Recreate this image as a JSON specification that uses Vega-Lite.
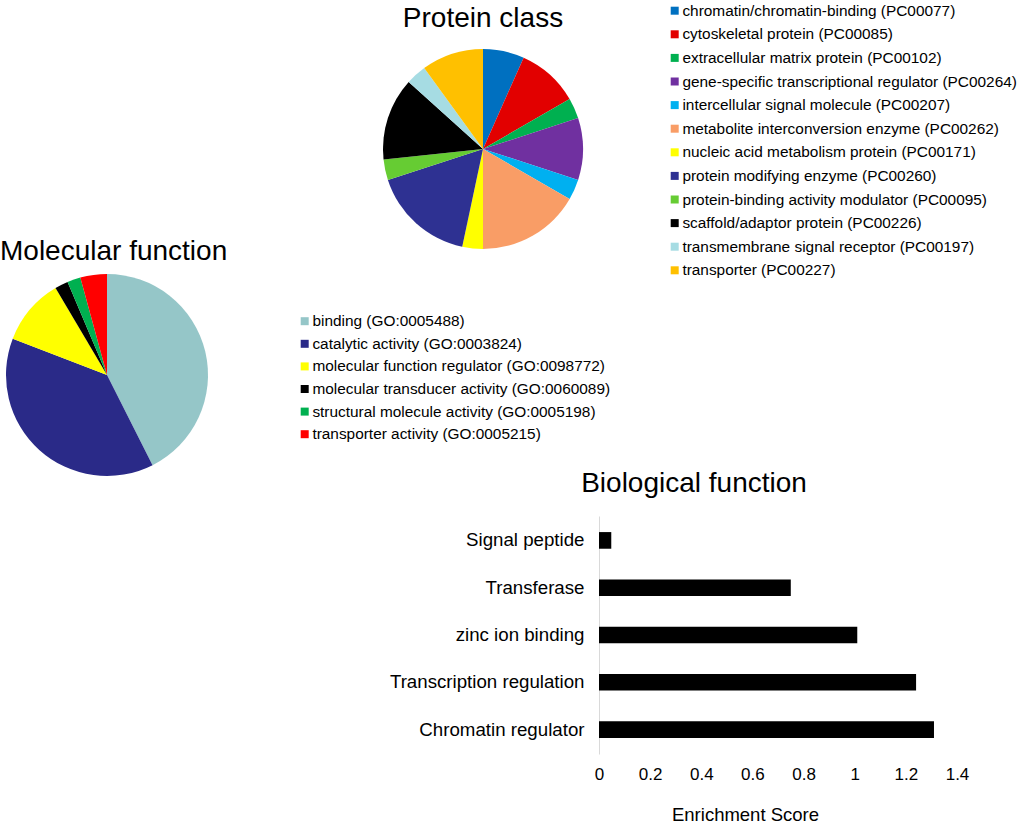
{
  "$schema": "https://vega.github.io/schema/vega-lite/v6.json",
  "background": "white",
  "padding": {"left": 0, "top": 3, "right": 0, "bottom": 0},
  "config": {
    "view": {"stroke": null},
    "font": "Liberation Sans",
    "title": {"font": "Liberation Sans", "fontSize": 28, "fontWeight": "normal", "color": "black", "frame": "group"},
    "legend": {
      "labelFont": "Liberation Sans", "labelFontSize": 15.4, "labelColor": "black",
      "symbolType": "square", "symbolSize": 64, "symbolStrokeWidth": 0,
      "labelOffset": 0, "padding": 0, "labelLimit": 600
    },
    "axis": {"labelFont": "Liberation Sans", "titleFont": "Liberation Sans", "labelColor": "black", "titleColor": "black"}
  },
  "bounds": "flush",
  "spacing": 40,
  "resolve": {"scale": {"color": "independent", "theta": "independent"}, "legend": {"color": "independent"}},
  "vconcat": [
    {
      "width": 966,
      "height": 170,
      "title": {"text": "Protein class", "anchor": "middle", "baseline": "alphabetic", "offset": -52},
      "data": {"values": [
        {"category": "chromatin/chromatin-binding (PC00077)", "count": 2},
        {"category": "cytoskeletal protein (PC00085)", "count": 3},
        {"category": "extracellular matrix protein (PC00102)", "count": 1},
        {"category": "gene-specific transcriptional regulator (PC00264)", "count": 3},
        {"category": "intercellular signal molecule (PC00207)", "count": 1},
        {"category": "metabolite interconversion enzyme (PC00262)", "count": 5},
        {"category": "nucleic acid metabolism protein (PC00171)", "count": 1},
        {"category": "protein modifying enzyme (PC00260)", "count": 5},
        {"category": "protein-binding activity modulator (PC00095)", "count": 1},
        {"category": "scaffold/adaptor protein (PC00226)", "count": 4},
        {"category": "transmembrane signal receptor (PC00197)", "count": 1},
        {"category": "transporter (PC00227)", "count": 3}
      ]},
      "mark": {"type": "arc", "outerRadius": 100},
      "encoding": {
        "theta": {"field": "count", "type": "quantitative", "stack": true},
        "order": {"field": "category", "sort": "ascending"},
        "color": {
          "field": "category", "type": "nominal",
          "scale": {
            "domain": [
              "chromatin/chromatin-binding (PC00077)", "cytoskeletal protein (PC00085)", "extracellular matrix protein (PC00102)",
              "gene-specific transcriptional regulator (PC00264)", "intercellular signal molecule (PC00207)", "metabolite interconversion enzyme (PC00262)",
              "nucleic acid metabolism protein (PC00171)", "protein modifying enzyme (PC00260)", "protein-binding activity modulator (PC00095)",
              "scaffold/adaptor protein (PC00226)", "transmembrane signal receptor (PC00197)", "transporter (PC00227)"
            ],
            "range": ["#0070C0", "#E20000", "#00B050", "#7030A0", "#00B0F0", "#F99D66", "#FFFF00", "#2E3192", "#66CC33", "#000000", "#A6DCE3", "#FFC000"]
          },
          "legend": {"title": null, "orient": "none", "legendX": 667, "legendY": -61, "rowPadding": 6.6}
        }
      }
    },
    {
      "width": 214,
      "height": 202,
      "title": {"text": "Molecular function", "anchor": "start", "baseline": "alphabetic", "offset": -14},
      "data": {"values": [
        {"category": "binding (GO:0005488)", "count": 20},
        {"category": "catalytic activity (GO:0003824)", "count": 18},
        {"category": "molecular function regulator (GO:0098772)", "count": 5},
        {"category": "molecular transducer activity (GO:0060089)", "count": 1},
        {"category": "structural molecule activity (GO:0005198)", "count": 1},
        {"category": "transporter activity (GO:0005215)", "count": 2}
      ]},
      "mark": {"type": "arc", "outerRadius": 101},
      "encoding": {
        "theta": {"field": "count", "type": "quantitative", "stack": true},
        "order": {"field": "category", "sort": "ascending"},
        "color": {
          "field": "category", "type": "nominal",
          "scale": {
            "domain": [
              "binding (GO:0005488)", "catalytic activity (GO:0003824)", "molecular function regulator (GO:0098772)",
              "molecular transducer activity (GO:0060089)", "structural molecule activity (GO:0005198)", "transporter activity (GO:0005215)"
            ],
            "range": ["#95C6C8", "#2A2A88", "#FFFF00", "#000000", "#00B050", "#FF0000"]
          },
          "legend": {"title": null, "orient": "none", "legendX": 297, "legendY": 39.5, "rowPadding": 5.6}
        }
      }
    },
    {
      "bounds": "flush",
      "spacing": 0,
      "hconcat": [
        {
          "width": 599,
          "height": 10,
          "data": {"values": []},
          "mark": {"type": "point", "opacity": 0}
        },
        {
          "width": 358,
          "height": 238,
          "title": {"text": "Biological function", "anchor": "middle", "baseline": "alphabetic", "offset": -4, "dx": -84},
          "data": {"values": [
            {"term": "Signal peptide", "score": 0.048},
            {"term": "Transferase", "score": 0.75},
            {"term": "zinc ion binding", "score": 1.01},
            {"term": "Transcription regulation", "score": 1.24},
            {"term": "Chromatin regulator", "score": 1.31}
          ]},
          "mark": {"type": "bar", "color": "black"},
          "encoding": {
            "y": {
              "field": "term", "type": "nominal", "sort": "x",
              "scale": {"paddingInner": 0.648, "paddingOuter": 0.34},
              "axis": {"title": null, "ticks": false, "domainColor": "#D9D9D9", "domainWidth": 1, "labelFontSize": 18.7, "labelPadding": 15, "labelLimit": 300}
            },
            "x": {
              "field": "score", "type": "quantitative",
              "scale": {"domain": [0, 1.4], "nice": false},
              "axis": {
                "values": [0, 0.2, 0.4, 0.6, 0.8, 1, 1.2, 1.4], "format": "~g",
                "grid": false, "domain": false, "ticks": false, "labelFlush": false,
                "labelFontSize": 17, "labelPadding": 12,
                "title": "Enrichment Score", "titleFontSize": 18.5, "titleFontWeight": "normal", "titlePadding": 23, "titleX": 146
              }
            }
          }
        }
      ]
    }
  ]
}
